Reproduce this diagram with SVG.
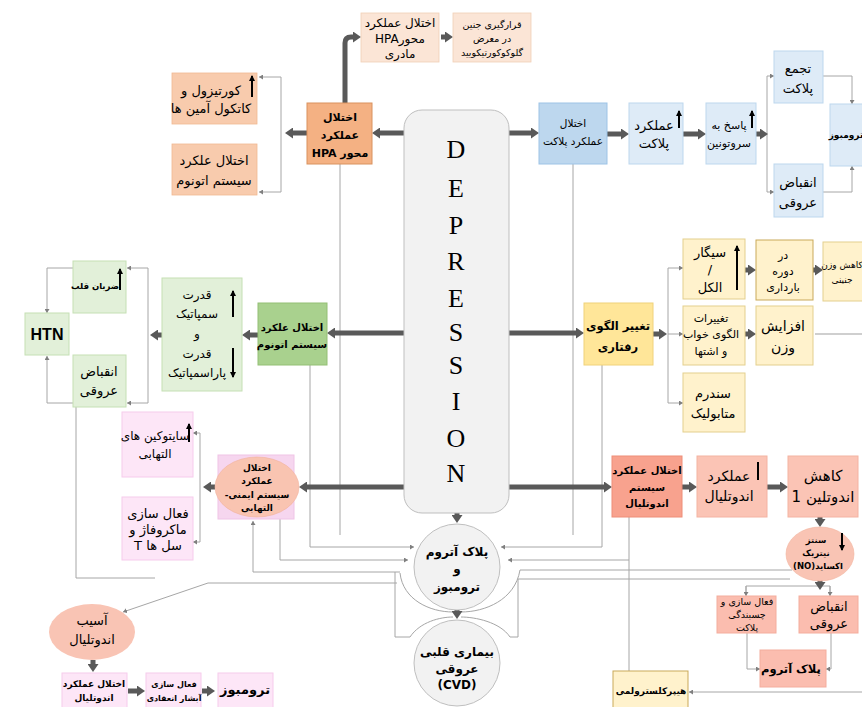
<svg xmlns="http://www.w3.org/2000/svg" width="862" height="707" viewBox="0 0 862 707">
<defs>
<style>
.t{font-family:"DejaVu Sans","Liberation Sans",sans-serif;text-anchor:middle;direction:rtl;fill:#000}
.b{font-weight:bold}
.thick{stroke:#595959;stroke-width:5;fill:none}
.thin{stroke:#a6a6a6;stroke-width:1;fill:none}
.blk{stroke:#000;stroke-width:2;fill:none}
.dep{font-family:"Liberation Serif",serif;font-size:26px;text-anchor:middle;fill:#000}
</style>
<marker id="ah" markerUnits="userSpaceOnUse" markerWidth="8" markerHeight="11" viewBox="0 0 8 11" refX="0" refY="5.5" orient="auto"><path d="M0,0 L8,5.5 L0,11 z" fill="#595959"/></marker>
<marker id="sg" markerUnits="userSpaceOnUse" markerWidth="4" markerHeight="5" viewBox="0 0 4 5" refX="4" refY="2.5" orient="auto"><path d="M0,0 L4,2.5 L0,5 z" fill="#7f7f7f"/></marker>
<marker id="bk" markerUnits="userSpaceOnUse" markerWidth="6" markerHeight="6" viewBox="0 0 6 6" refX="5" refY="3" orient="auto"><path d="M0,0 L6,3 L0,6 z" fill="#000"/></marker>
</defs>
<rect width="862" height="707" fill="#fff"/>

<g id="connectors">
<path class="thin" d="M281,77 V192"/>
<path class="thin" d="M281,77 H259" marker-end="url(#sg)"/>
<path class="thin" d="M281,192 H259" marker-end="url(#sg)"/>
<path class="thin" d="M340,164 V535"/>
<path class="thin" d="M573,164 V535"/>
<path class="thin" d="M767,76 V192"/>
<path class="thin" d="M767,76 H774" marker-end="url(#sg)"/>
<path class="thin" d="M767,192 H774" marker-end="url(#sg)"/>
<path class="thin" d="M823,76 H852 V104" marker-end="url(#sg)"/>
<path class="thin" d="M823,192 H852 V166" marker-end="url(#sg)"/>
<path class="thin" d="M148,268 V403"/>
<path class="thin" d="M148,268 H127" marker-end="url(#sg)"/>
<path class="thin" d="M148,403 H127" marker-end="url(#sg)"/>
<path class="thin" d="M73,268 H47 V313" marker-end="url(#sg)"/>
<path class="thin" d="M73,403 H47 V356" marker-end="url(#sg)"/>
<path class="thin" d="M310,365 V547 H414" marker-end="url(#sg)"/>
<path class="thin" d="M668,268 V403"/>
<path class="thin" d="M668,268 H683" marker-end="url(#sg)"/>
<path class="thin" d="M668,334 H683" marker-end="url(#sg)"/>
<path class="thin" d="M668,403 H683" marker-end="url(#sg)"/>
<path class="thin" d="M602,365 V547 H501" marker-end="url(#sg)"/>
<path d="M815,334 H862" stroke="#bfbfbf" stroke-width="1.5" fill="none"/>
<path class="thin" d="M200,433 V542"/>
<path class="thin" d="M200,433 H193" marker-end="url(#sg)"/>
<path class="thin" d="M200,542 H193" marker-end="url(#sg)"/>
<path class="thin" d="M280,519 V560 H408" marker-end="url(#sg)"/>
<path class="thin" d="M400,572 H253 V521" marker-end="url(#sg)"/>
<path class="thin" d="M395,572 V637 H410"/>
<path class="thin" d="M397,583 H208 L123,612" marker-end="url(#sg)"/>
<path class="thin" d="M76,407 V578 H155"/>
<path class="thin" d="M629,517 V671"/>
<path class="thin" d="M629,560 H508" marker-end="url(#sg)"/>
<path class="thin" d="M792,570 H520"/>
<path class="thin" d="M790,579 H518 V637 H510"/>
<path class="thin" d="M400,573 C403,600 430,612 453,612"/>
<path class="thin" d="M520,570 C515,600 485,612 461,612"/>
<path class="thin" d="M410,637 C420,622 440,617 453,617"/>
<path class="thin" d="M510,637 C500,622 475,617 461,617"/>
<path class="thin" d="M746,595 V586 H830 V595"/>
<path class="thin" d="M746,586 V596" marker-end="url(#sg)"/>
<path class="thin" d="M830,586 V596" marker-end="url(#sg)"/>
<path class="thin" d="M747,633 V669 H760" marker-end="url(#sg)"/>
<path class="thin" d="M831,633 V669 H826" marker-end="url(#sg)"/>
<path class="thin" d="M862,692 H689" marker-end="url(#sg)"/>
<path class="thick" d="M404,133 H380" marker-end="url(#ah)"/>
<path class="thick" d="M307,133 H293" marker-end="url(#ah)"/>
<path class="thick" stroke-width="4" d="M345,103 V43 Q345,37 351,37 H353" marker-end="url(#ah)"/>
<path class="thick" stroke-width="3" d="M441,37 H445" marker-end="url(#ah)"/>
<path class="thick" d="M509,133 H531" marker-end="url(#ah)"/>
<path class="thick" d="M607,134 H621" marker-end="url(#ah)"/>
<path class="thick" d="M683,134 H698" marker-end="url(#ah)"/>
<path class="thick" d="M756,134 H760" marker-end="url(#ah)"/>
<path class="thick" d="M404,333 H335" marker-end="url(#ah)"/>
<path class="thick" d="M258,335 H250" marker-end="url(#ah)"/>
<path class="thick" d="M162,335 H158" marker-end="url(#ah)"/>
<path class="thick" d="M509,333 H576" marker-end="url(#ah)"/>
<path class="thick" d="M653,334 H659" marker-end="url(#ah)"/>
<path class="thick" stroke-width="4" d="M745,270 H748" marker-end="url(#ah)"/>
<path class="thick" stroke-width="4" d="M813,270 H815" marker-end="url(#ah)"/>
<path class="thick" stroke-width="4" d="M745,334 H748" marker-end="url(#ah)"/>
<path class="thick" d="M404,487 H307" marker-end="url(#ah)"/>
<path class="thick" d="M215,487 H211" marker-end="url(#ah)"/>
<path class="thick" d="M509,487 H604" marker-end="url(#ah)"/>
<path class="thick" d="M682,487 H689" marker-end="url(#ah)"/>
<path class="thick" d="M767,487 H780" marker-end="url(#ah)"/>
<path class="thick" stroke-width="4" d="M820,517 V519" marker-end="url(#ah)"/>
<path class="thick" stroke-width="4" d="M820,580 V582" marker-end="url(#ah)"/>
<path class="thick" stroke-width="4" d="M457,513 V515" marker-end="url(#ah)"/>
<path class="thick" stroke-width="4" d="M457,610 V611" marker-end="url(#ah)"/>
<path class="thick" stroke-width="4" d="M93,660 V664" marker-end="url(#ah)"/>
<path class="thick" stroke-width="4" d="M128,691 H137" marker-end="url(#ah)"/>
<path class="thick" stroke-width="4" d="M202,691 H207" marker-end="url(#ah)"/>
</g>

<g id="depression">
<rect x="404" y="110" width="105" height="403" rx="18" fill="#f2f2f2" stroke="#bfbfbf"/>
<text class="dep" x="456" y="158">D</text>
<text class="dep" x="456" y="197">E</text>
<text class="dep" x="456" y="234">P</text>
<text class="dep" x="456" y="270">R</text>
<text class="dep" x="456" y="307">E</text>
<text class="dep" x="456" y="341">S</text>
<text class="dep" x="456" y="374">S</text>
<text class="dep" x="456" y="410">I</text>
<text class="dep" x="456" y="447">O</text>
<text class="dep" x="456" y="482">N</text>
</g>

<g id="cortisol">
<rect x="172" y="73" width="85" height="51" fill="#f8cbad" stroke="#efb892" stroke-width="0.8"/>
<text class="t" font-size="13"><tspan x="211" y="95">کورتیزول و</tspan><tspan x="211" y="113">کاتکول آمین ها</tspan></text>
<path class="blk" d="M252,97 V76" marker-end="url(#bk)"/>
</g>
<g id="ans-hpa">
<rect x="172" y="144" width="85" height="51" fill="#f8cbad" stroke="#efb892" stroke-width="0.8"/>
<text class="t" font-size="13"><tspan x="214" y="165">اختلال علکرد</tspan><tspan x="214" y="185">سیستم اتونوم</tspan></text>
</g>
<g id="hpa">
<rect x="307" y="103" width="65" height="61" fill="#f4b183" stroke="#d9925e"/>
<text class="t b" font-size="11"><tspan x="340" y="121">اختلال</tspan><tspan x="340" y="139">عملکرد</tspan><tspan x="340" y="157">محور HPA</tspan></text>
</g>
<g id="hpa-maternal">
<rect x="361" y="13" width="78" height="49" fill="#fbe5d6" stroke="#f1cfb6" stroke-width="0.8"/>
<text class="t" font-size="12"><tspan x="400" y="27">اختلال عملکرد</tspan><tspan x="400" y="43">محورHPA</tspan><tspan x="400" y="58">مادری</tspan></text>
</g>
<g id="fetal">
<rect x="453" y="13" width="78" height="49" fill="#fbe5d6" stroke="#f1cfb6" stroke-width="0.8"/>
<text class="t" font-size="9.5"><tspan x="492" y="28">قرارگیری جنین</tspan><tspan x="492" y="42">در معرض</tspan><tspan x="492" y="56">گلوکوکورتیکویید</tspan></text>
</g>

<g id="platelet-dys">
<rect x="539" y="103" width="68" height="61" fill="#bdd7ee" stroke="#9dc3e6"/>
<text class="t" font-size="10.5"><tspan x="573" y="127">اختلال</tspan><tspan x="573" y="145">عملکرد پلاکت</tspan></text>
</g>
<g id="platelet-func">
<rect x="629" y="103" width="54" height="61" fill="#deebf7" stroke="#bdd7ee"/>
<text class="t" font-size="13"><tspan x="654" y="130">عملکرد</tspan><tspan x="654" y="148">پلاکت</tspan></text>
<path class="blk" d="M679,128 V111" marker-end="url(#bk)"/>
</g>
<g id="serotonin">
<rect x="706" y="103" width="50" height="61" fill="#deebf7" stroke="#bdd7ee"/>
<text class="t" font-size="11"><tspan x="729" y="129">پاسخ به</tspan><tspan x="729" y="147">سروتونین</tspan></text>
<path class="blk" d="M752,128 V111" marker-end="url(#bk)"/>
</g>
<g id="aggregation">
<rect x="774" y="51" width="49" height="52" fill="#deebf7" stroke="#bdd7ee"/>
<text class="t" font-size="13"><tspan x="798" y="73">تجمع</tspan><tspan x="798" y="93">پلاکت</tspan></text>
</g>
<g id="vasocon-pl">
<rect x="774" y="164" width="49" height="53" fill="#deebf7" stroke="#bdd7ee"/>
<text class="t" font-size="13"><tspan x="798" y="187">انقباض</tspan><tspan x="798" y="207">عروقی</tspan></text>
</g>
<g id="thrombosis-pl">
<rect x="830" y="104" width="50" height="62" fill="#deebf7" stroke="#bdd7ee"/>
<text class="t b" font-size="9" x="846" y="138">ترومبوز</text>
</g>

<g id="autonomic">
<rect x="258" y="303" width="69" height="62" fill="#a9d18e" stroke="#93bf75"/>
<text class="t b" font-size="10"><tspan x="292" y="331">اختلال علکرد</tspan><tspan x="292" y="348">سیستم اتونوم</tspan></text>
</g>
<g id="symp">
<rect x="162" y="278" width="80" height="113" fill="#e2f0d9" stroke="#c5e0b4"/>
<text class="t" font-size="12"><tspan x="197" y="299">قدرت</tspan><tspan x="197" y="318">سمپاتیک</tspan><tspan x="197" y="338">و</tspan><tspan x="197" y="358">قدرت</tspan><tspan x="197" y="377">پاراسمپاتیک</tspan></text>
<path class="blk" d="M233,317 V291" marker-end="url(#bk)"/>
<path class="blk" d="M233,348 V377" marker-end="url(#bk)"/>
</g>
<g id="heartrate">
<rect x="73" y="261" width="53" height="52" fill="#e2f0d9" stroke="#c5e0b4"/>
<text class="t b" font-size="8.5" x="95" y="289">ضربان قلب</text>
<path class="blk" d="M120,290 V269" marker-end="url(#bk)"/>
</g>
<g id="vasocon-ans">
<rect x="73" y="355" width="53" height="52" fill="#e2f0d9" stroke="#c5e0b4"/>
<text class="t" font-size="13"><tspan x="99" y="376">انقباض</tspan><tspan x="99" y="395">عروقی</tspan></text>
</g>
<g id="htn">
<rect x="25" y="313" width="44" height="42" fill="#e2f0d9" stroke="#c5e0b4"/>
<text x="47" y="340" font-family="Liberation Sans, Arial, sans-serif" font-weight="bold" font-size="16" text-anchor="middle">HTN</text>
</g>

<g id="behaviour">
<rect x="584" y="303" width="69" height="62" fill="#ffe699" stroke="#f0d27a"/>
<text class="t b" font-size="11.5"><tspan x="618" y="330">تغییر الگوی</tspan><tspan x="618" y="351">رفتاری</tspan></text>
</g>
<g id="smoking">
<rect x="683" y="239" width="62" height="60" fill="#fff2cc" stroke="#e3cf8e"/>
<text class="t" font-size="13"><tspan x="710" y="257">سیگار</tspan><tspan x="710" y="274">/</tspan><tspan x="710" y="292">الکل</tspan></text>
<path class="blk" d="M737,290 V246" marker-end="url(#bk)"/>
</g>
<g id="pregnancy">
<rect x="756" y="240" width="57" height="60" fill="#fff2cc" stroke="#c9a95a"/>
<text class="t" font-size="11"><tspan x="783" y="259">در</tspan><tspan x="783" y="275">دوره</tspan><tspan x="783" y="291">بارداری</tspan></text>
</g>
<g id="fetal-weight">
<rect x="823" y="242" width="60" height="59" fill="#fff2cc" stroke="#e3cf8e"/>
<text class="t" font-size="9"><tspan x="842" y="268">کاهش وزن</tspan><tspan x="842" y="283">جنینی</tspan></text>
</g>
<g id="sleep">
<rect x="683" y="306" width="62" height="59" fill="#fff2cc" stroke="#e3cf8e"/>
<text class="t" font-size="11"><tspan x="711" y="322">تغییرات</tspan><tspan x="711" y="338">الگوی خواب</tspan><tspan x="711" y="355">و اشتها</tspan></text>
</g>
<g id="weight">
<rect x="756" y="306" width="57" height="59" fill="#fff2cc" stroke="#e3cf8e"/>
<text class="t" font-size="14"><tspan x="783" y="331">افزایش</tspan><tspan x="783" y="352">وزن</tspan></text>
</g>
<g id="metabolic">
<rect x="683" y="373" width="62" height="59" fill="#fff2cc" stroke="#e3cf8e"/>
<text class="t" font-size="13"><tspan x="713" y="398">سندرم</tspan><tspan x="713" y="418">متابولیک</tspan></text>
</g>

<g id="immune">
<rect x="218" y="455" width="76" height="64" fill="#f6d6ef" stroke="#efc4e6"/>
<ellipse cx="257" cy="487" rx="42" ry="30" fill="#f9c4b1" stroke="#f2b19c" stroke-width="0.6"/>
<text class="t b" font-size="9"><tspan x="257" y="471">اختلال</tspan><tspan x="257" y="484">عملکرد</tspan><tspan x="257" y="498">سیستم ایمنی-</tspan><tspan x="257" y="511">التهابی</tspan></text>
</g>
<g id="cytokines">
<rect x="122" y="412" width="71" height="65" fill="#fde6f7" stroke="#f6cbec"/>
<text class="t" font-size="12"><tspan x="155" y="440">سایتوکین های</tspan><tspan x="155" y="458">التهابی</tspan></text>
<path class="blk" d="M189,442 V424" marker-end="url(#bk)"/>
</g>
<g id="macrophage">
<rect x="122" y="497" width="71" height="63" fill="#fde6f7" stroke="#f6cbec"/>
<text class="t" font-size="13"><tspan x="158" y="518">فعال سازی</tspan><tspan x="158" y="534">ماکروفاژ و</tspan><tspan x="158" y="550">سل ها T</tspan></text>
</g>

<g id="endothelial">
<rect x="612" y="456" width="70" height="61" fill="#f8a28e" stroke="#ee8e78"/>
<text class="t b" font-size="10"><tspan x="647" y="474">اختلال عملکرد</tspan><tspan x="647" y="491">سیستم</tspan><tspan x="647" y="507">اندوتلیال</tspan></text>
</g>
<g id="endo-func">
<rect x="697" y="456" width="70" height="61" fill="#fbc4b5" stroke="#f4b3a2"/>
<text class="t" font-size="14"><tspan x="729" y="481">عملکرد</tspan><tspan x="729" y="501">اندوتلیال</tspan></text>
<path class="blk" stroke-width="2.5" d="M758,462 V480"/>
</g>
<g id="endothelin">
<rect x="788" y="456" width="70" height="61" fill="#fbc4b5" stroke="#f4b3a2"/>
<text class="t" font-size="15"><tspan x="823" y="481">کاهش</tspan><tspan x="823" y="502">اندوتلین 1</tspan></text>
</g>
<g id="no">
<ellipse cx="820" cy="554" rx="34" ry="27" fill="#f9c4b4" stroke="#f2b19c" stroke-width="0.6"/>
<text class="t b" font-size="8.5"><tspan x="816" y="543">سنتز</tspan><tspan x="816" y="556">نیتریک</tspan><tspan x="818" y="569">اکساید(NO)</tspan></text>
<path class="blk" d="M842,533 V550" marker-end="url(#bk)"/>
</g>
<g id="platelet-act">
<rect x="717" y="596" width="59" height="37" fill="#fbbdaf" stroke="#f4ad9d"/>
<text class="t" font-size="9.5"><tspan x="747" y="605">فعال سازی و</tspan><tspan x="747" y="618">چسبندگی</tspan><tspan x="747" y="631">پلاکت</tspan></text>
</g>
<g id="vasocon-endo">
<rect x="799" y="596" width="59" height="37" fill="#fbbdaf" stroke="#f4ad9d"/>
<text class="t" font-size="13"><tspan x="829" y="611">انقباض</tspan><tspan x="829" y="628">عروقی</tspan></text>
</g>
<g id="plaque-endo">
<rect x="760" y="650" width="66" height="37" fill="#fbbdaf" stroke="#f4ad9d"/>
<text class="t b" font-size="11.5" x="791" y="673">پلاک آتروم</text>
</g>
<g id="hyperchol">
<rect x="613" y="671" width="75" height="40" fill="#fff2cc" stroke="#c9a95a"/>
<text class="t b" font-size="9" x="651" y="694">هیپرکلسترولمی</text>
</g>

<g id="plaque">
<circle cx="457" cy="567" r="43" fill="#f2f2f2" stroke="#bfbfbf"/>
<text class="t b" font-size="12"><tspan x="457" y="556">پلاک آتروم</tspan><tspan x="457" y="573">و</tspan><tspan x="457" y="591">ترومبوز</tspan></text>
</g>
<g id="cvd">
<circle cx="457" cy="663" r="43" fill="#f2f2f2" stroke="#bfbfbf"/>
<text class="t b" font-size="12"><tspan x="457" y="656">بیماری قلبی</tspan><tspan x="457" y="673">عروقی</tspan><tspan x="457" y="689">(CVD)</tspan></text>
</g>

<g id="endo-damage">
<ellipse cx="92" cy="632" rx="43" ry="28" fill="#f9c4b4"/>
<text class="t" font-size="13"><tspan x="92" y="625">آسیب</tspan><tspan x="92" y="644">اندوتلیال</tspan></text>
</g>
<g id="endo-dys2">
<rect x="62" y="673" width="65" height="40" fill="#fde6f7" stroke="#f6cbec"/>
<text class="t b" font-size="9"><tspan x="94" y="687">اختلال عملکرد</tspan><tspan x="94" y="701">اندوتلیال</tspan></text>
</g>
<g id="coag">
<rect x="146" y="673" width="55" height="40" fill="#fde6f7" stroke="#f6cbec"/>
<text class="t b" font-size="8"><tspan x="174" y="687">فعال سازی</tspan><tspan x="174" y="701">آبشار انعقادی</tspan></text>
</g>
<g id="thrombosis">
<rect x="218" y="673" width="55" height="40" fill="#fde6f7" stroke="#f6cbec"/>
<text class="t b" font-size="13" x="245" y="694">ترومبوز</text>
</g>
</svg>
